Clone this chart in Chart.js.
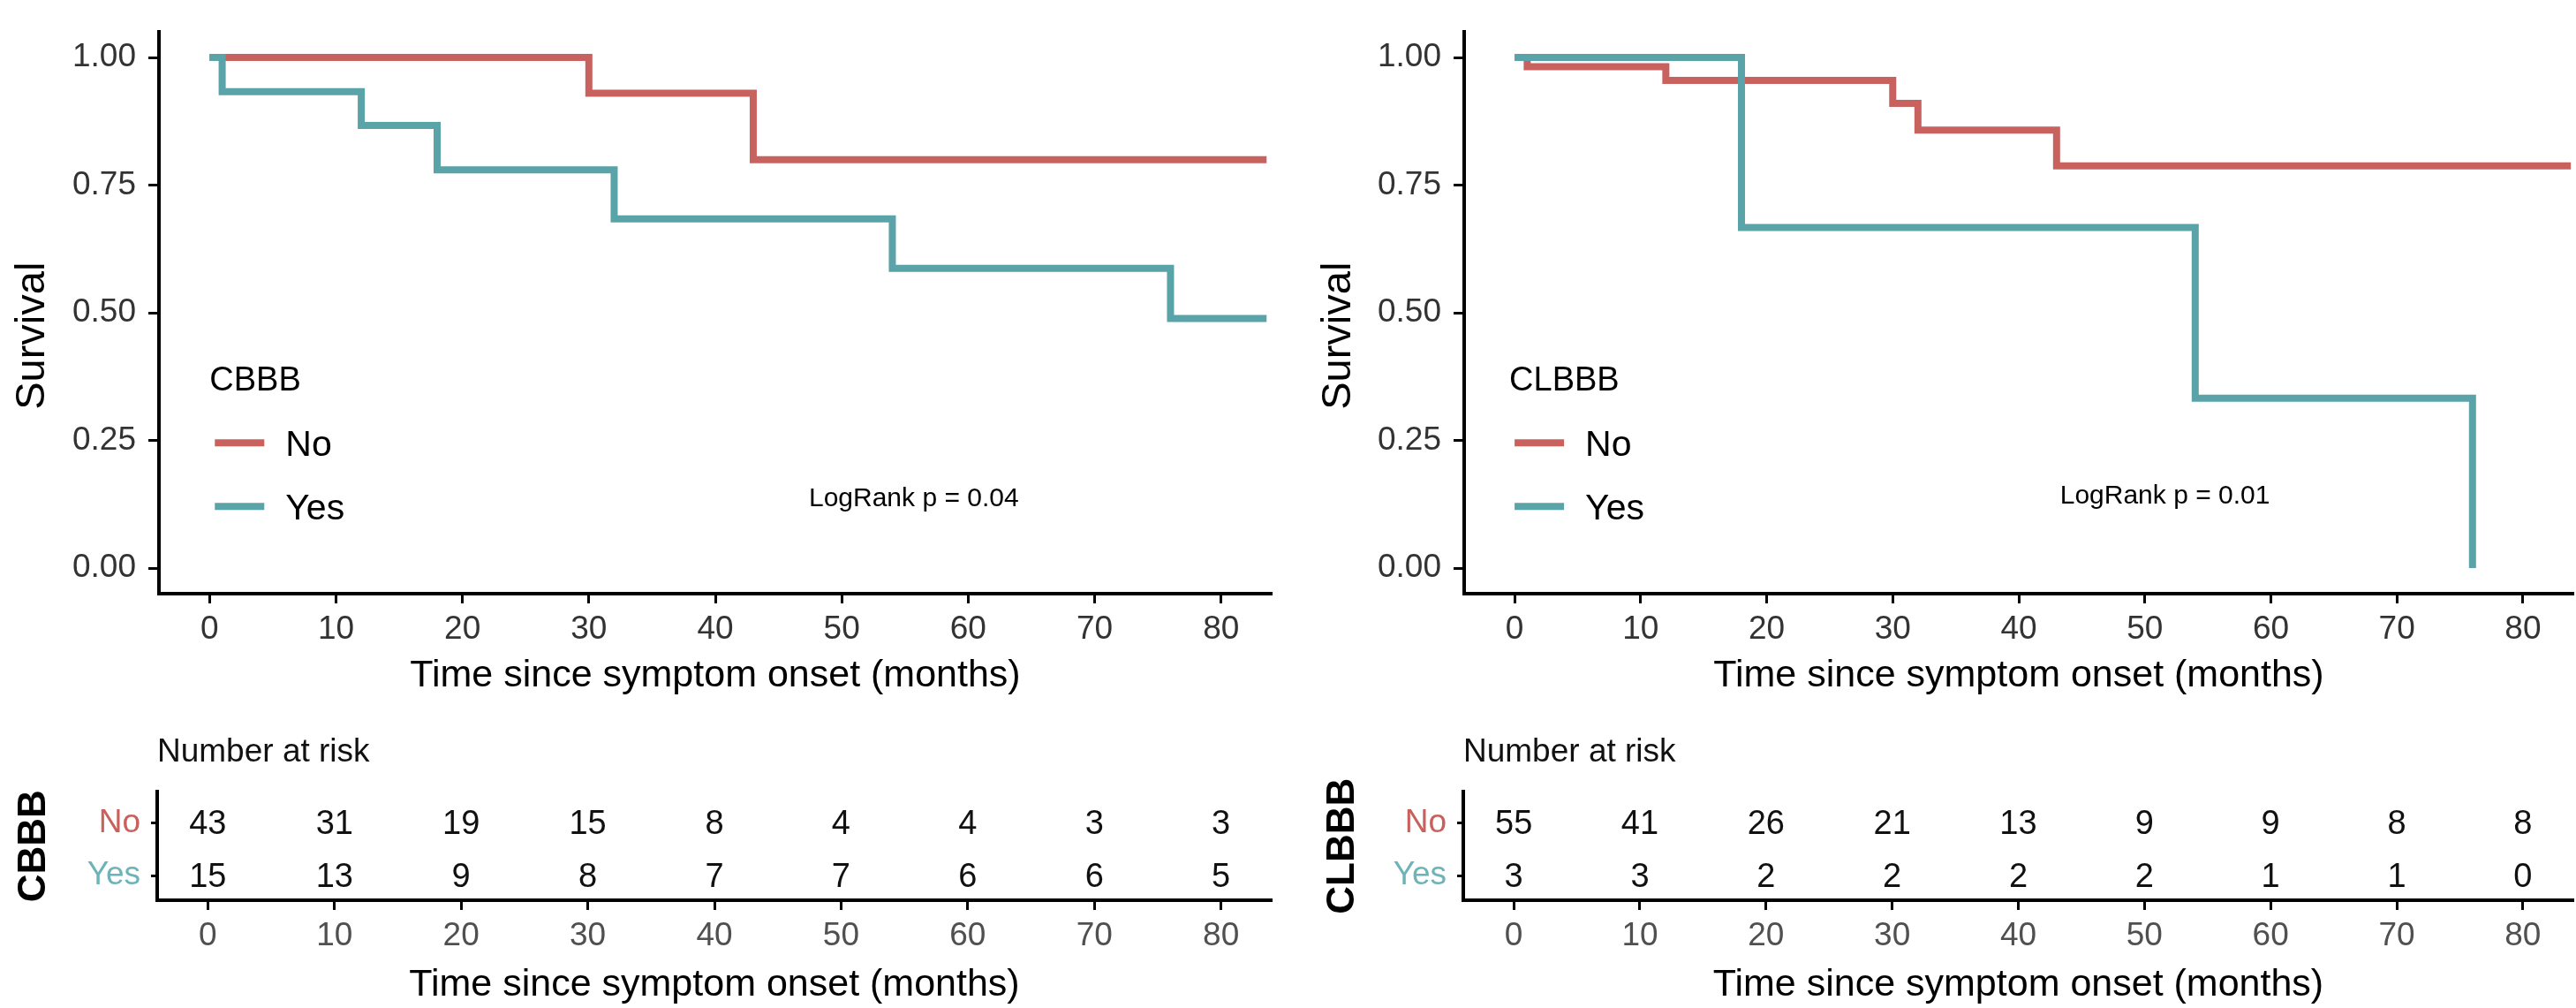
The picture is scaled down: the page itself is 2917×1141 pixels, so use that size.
<!DOCTYPE html>
<html>
<head>
<meta charset="utf-8">
<title>Survival by CBBB / CLBBB</title>
<script src="https://cdn.jsdelivr.net/npm/chart.js@4"></script>
<style>
  body { margin: 0; background: #fff; width: 2917px; height: 1141px; overflow: hidden; position: relative; }
  canvas { position: absolute; }
</style>
</head>
<body>
<canvas id="kmLeft" width="1460" height="800" style="left:0;top:0;width:1460px;height:800px"></canvas>
<canvas id="kmRight" width="1457" height="800" style="left:1460px;top:0;width:1457px;height:800px"></canvas>
<canvas id="riskLeft" width="1460" height="341" style="left:0;top:800px;width:1460px;height:341px"></canvas>
<canvas id="riskRight" width="1457" height="341" style="left:1460px;top:800px;width:1457px;height:341px"></canvas>
<script>
// ===== DATA =====
const xTicks = [0, 10, 20, 30, 40, 50, 60, 70, 80];
const yTicks = [0, 0.25, 0.5, 0.75, 1];
const groupLabels = ['No', 'Yes'];

// CBBB curves (time in months, survival)
const cbbbNoTime = [0, 30, 43, 83.6];
const cbbbNoSurv = [1, 0.93, 0.80, 0.80];
const cbbbYesTime = [0, 1, 12, 18, 32, 54, 76, 83.6];
const cbbbYesSurv = [1, 0.933, 0.867, 0.78, 0.684, 0.587, 0.489, 0.489];

// CLBBB curves
const clbbbNoTime = [0, 1, 12, 30, 32, 43, 83.8];
const clbbbNoSurv = [1, 0.982, 0.955, 0.91, 0.858, 0.788, 0.788];
const clbbbYesTime = [0, 18, 54, 76];
const clbbbYesSurv = [1, 0.667, 0.333, 0];

// number at risk
const riskTimes = [0, 10, 20, 30, 40, 50, 60, 70, 80];
const cbbbRiskNo = [43, 31, 19, 15, 8, 4, 4, 3, 3];
const cbbbRiskYes = [15, 13, 9, 8, 7, 7, 6, 6, 5];
const clbbbRiskNo = [55, 41, 26, 21, 13, 9, 9, 8, 8];
const clbbbRiskYes = [3, 3, 2, 2, 2, 2, 1, 1, 0];

// ===== STYLE =====
const FONT = "'Liberation Sans', Arial, Helvetica, sans-serif";
const RED = '#C8625E';
const TEAL = '#5AA3A9';
const RED_TXT = '#C9605C';
const TEAL_TXT = '#6DB3B8';

function pts(ts, ss) { return ts.map((t, i) => ({ x: t, y: ss[i] })); }

// legend + logrank text drawn inside the plot
const kmNotes = {
  id: 'kmNotes',
  afterDatasetsDraw(chart, args, opts) {
    const ctx = chart.ctx, xs = chart.scales.x, ys = chart.scales.y;
    const x0 = xs.getPixelForValue(0);
    const top = chart.chartArea.top;
    ctx.save();
    ctx.textBaseline = 'middle';
    ctx.textAlign = 'left';
    ctx.fillStyle = '#000';
    ctx.font = '38px ' + FONT;
    ctx.fillText(opts.title, x0 + opts.dx, top + 395);
    const rows = [{ ds: 1, y: top + 465 }, { ds: 0, y: top + 537 }];
    rows.forEach(r => {
      const ds = chart.data.datasets[r.ds];
      ctx.strokeStyle = ds.borderColor;
      ctx.lineWidth = 8;
      ctx.beginPath();
      ctx.moveTo(x0 + 6 + opts.dx, r.y);
      ctx.lineTo(x0 + 62 + opts.dx, r.y);
      ctx.stroke();
      ctx.font = '41px ' + FONT;
      ctx.fillText(ds.label, x0 + 86 + opts.dx, r.y + 3);
    });
    ctx.font = '30px ' + FONT;
    ctx.textAlign = 'center';
    ctx.fillText(opts.pText, xs.getPixelForValue(opts.pX), ys.getPixelForValue(opts.pY));
    ctx.restore();
  }
};

function survivalChart(id, c) {
  return new Chart(document.getElementById(id), {
    type: 'line',
    data: {
      datasets: [
        { label: 'Yes', data: pts(c.yesT, c.yesS), borderColor: TEAL, order: 0 },
        { label: 'No', data: pts(c.noT, c.noS), borderColor: RED, order: 1 }
      ]
    },
    options: {
      responsive: false,
      animation: false,
      layout: { padding: { top: 23, right: c.padRight, bottom: 0, left: 0 } },
      elements: {
        point: { radius: 0 },
        line: { borderWidth: 8, stepped: 'before', tension: 0, borderCapStyle: 'butt', fill: false }
      },
      plugins: {
        legend: { display: false },
        tooltip: { enabled: false },
        kmNotes: { title: c.group, dx: c.legendDx, pText: c.pText, pX: c.pX, pY: c.pY }
      },
      scales: {
        x: {
          type: 'linear', min: -4, max: 84,
          afterBuildTicks: s => { s.ticks = xTicks.map(v => ({ value: v })); },
          afterFit: s => { s.height = 128; },
          grid: { display: true, drawOnChartArea: false, tickLength: 11, tickWidth: 3, tickColor: '#000' },
          border: { display: true, color: '#000', width: 4 },
          ticks: { color: '#333', font: { size: 37, family: FONT }, padding: 8, maxRotation: 0 },
          title: { display: true, text: 'Time since symptom onset (months)', color: '#000',
                   font: { size: 43, family: FONT }, padding: { top: 0, bottom: 9 } }
        },
        y: {
          type: 'linear', min: -0.05, max: 1.05,
          afterBuildTicks: s => { s.ticks = yTicks.map(v => ({ value: v })); },
          afterFit: s => { s.width = c.axisW; },
          grid: { display: true, drawOnChartArea: false, tickLength: 12, tickWidth: 3, tickColor: '#000' },
          border: { display: true, color: '#000', width: 4 },
          ticks: { color: '#333', font: { size: 37, family: FONT }, padding: 14, callback: v => v.toFixed(2) },
          // trailing spaces nudge the centred title a little lower, as in the original
          title: { display: true, text: 'Survival    ', color: '#000',
                   font: { size: 47, family: FONT }, padding: { top: c.titlePad, bottom: 0 } }
        }
      }
    },
    plugins: [kmNotes]
  });
}

// risk table numbers drawn at each (time, group) position
const riskNumbers = {
  id: 'riskNumbers',
  afterDatasetsDraw(chart) {
    const ctx = chart.ctx;
    ctx.save();
    ctx.font = '38px ' + FONT;
    ctx.fillStyle = '#111';
    ctx.textAlign = 'center';
    ctx.textBaseline = 'middle';
    chart.data.datasets.forEach((ds, i) => {
      chart.getDatasetMeta(i).data.forEach((p, j) => {
        ctx.fillText(String(ds.counts[j]), p.x, p.y + 2);
      });
    });
    ctx.restore();
  }
};

function riskChart(id, c) {
  return new Chart(document.getElementById(id), {
    type: 'scatter',
    data: {
      datasets: [
        { label: 'No', counts: c.no, data: riskTimes.map(t => ({ x: t, y: 0 })), pointRadius: 0 },
        { label: 'Yes', counts: c.yes, data: riskTimes.map(t => ({ x: t, y: 1 })), pointRadius: 0 }
      ]
    },
    options: {
      responsive: false,
      animation: false,
      layout: { padding: { top: 0, right: c.padRight, bottom: 0, left: 0 } },
      plugins: {
        legend: { display: false },
        tooltip: { enabled: false },
        title: { display: true, text: 'Number at risk', align: 'start', fullSize: false, color: '#111',
                 font: { size: 37, family: FONT, weight: 'normal' }, padding: { top: 30, bottom: 22 } }
      },
      scales: {
        x: {
          type: 'linear', min: -4, max: 84,
          afterBuildTicks: s => { s.ticks = xTicks.map(v => ({ value: v })); },
          afterFit: s => { s.height = 122; },
          grid: { display: true, drawOnChartArea: false, tickLength: 11, tickWidth: 3, tickColor: '#000' },
          border: { display: true, color: '#000', width: 4 },
          ticks: { color: '#505050', font: { size: 37, family: FONT }, padding: 8, maxRotation: 0 },
          title: { display: true, text: 'Time since symptom onset (months)', color: '#000',
                   font: { size: 43, family: FONT }, padding: { top: 0, bottom: 0 } }
        },
        y: {
          type: 'linear', reverse: true, min: -0.6, max: 1.47,
          afterBuildTicks: s => { s.ticks = [0, 1].map(v => ({ value: v })); },
          afterFit: s => { s.width = c.axisW; },
          grid: { display: true, drawOnChartArea: false, tickLength: 7, tickWidth: 3, tickColor: '#000' },
          border: { display: true, color: '#000', width: 4 },
          ticks: { font: { size: 37, family: FONT }, padding: 12,
                   color: ctx => [RED_TXT, TEAL_TXT][ctx.index],
                   callback: v => groupLabels[v] },
          title: { display: true, text: c.group, color: '#000',
                   font: { size: 44, family: FONT, weight: 'bold' }, padding: { top: c.titlePad, bottom: 0 } }
        }
      }
    },
    plugins: [riskNumbers]
  });
}

survivalChart('kmLeft', {
  group: 'CBBB', noT: cbbbNoTime, noS: cbbbNoSurv, yesT: cbbbYesTime, yesS: cbbbYesSurv,
  axisW: 180, padRight: 20, titlePad: 9, legendDx: 0,
  pText: 'LogRank p = 0.04', pX: 55.7, pY: 0.136
});
survivalChart('kmRight', {
  group: 'CLBBB', noT: clbbbNoTime, noS: clbbbNoSurv, yesT: clbbbYesTime, yesS: clbbbYesSurv,
  axisW: 198, padRight: 3, titlePad: 28, legendDx: -6,
  pText: 'LogRank p = 0.01', pX: 51.6, pY: 0.14
});
riskChart('riskLeft', { group: 'CBBB', no: cbbbRiskNo, yes: cbbbRiskYes, axisW: 178, padRight: 20, titlePad: 12 });
riskChart('riskRight', { group: 'CLBBB', no: clbbbRiskNo, yes: clbbbRiskYes, axisW: 197, padRight: 3, titlePad: 34 });
</script>
</body>
</html>
